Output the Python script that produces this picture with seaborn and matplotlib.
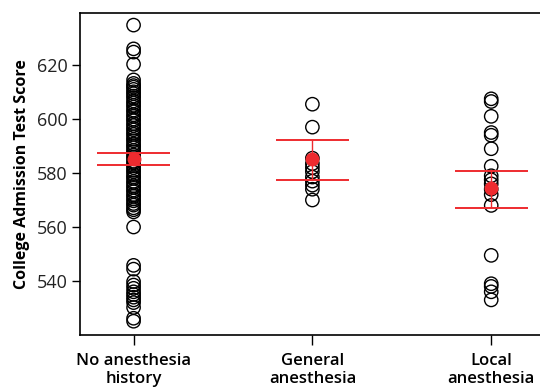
import matplotlib
matplotlib.use("Agg")
import matplotlib.pyplot as plt
import seaborn as sns
import pandas as pd

categories = ["No anesthesia\nhistory", "General\nanesthesia", "Local\nanesthesia"]

no_anesthesia = [634.8, 626.0, 624.8, 620.3, 614.5, 613.2, 612.4, 611.8, 611.0, 610.1,
                 609.4, 608.5, 607.8, 606.7, 606.0, 605.1, 604.4, 603.3, 602.7, 601.6,
                 601.0, 600.0, 599.4, 598.3, 597.6, 596.6, 596.0, 595.0, 594.3, 593.4,
                 592.5, 591.9, 590.8, 590.1, 589.4, 588.4, 587.8, 586.7, 586.0, 585.3,
                 584.3, 583.7, 582.7, 582.0, 581.0, 580.4, 579.4, 578.6, 578.0, 576.9,
                 576.3, 575.3, 574.7, 573.7, 573.1, 572.0, 571.4, 570.4, 569.7, 568.7,
                 568.1, 567.1, 566.4, 565.6, 560.0,
                 545.8, 544.4, 539.8, 538.5, 537.3, 536.0, 535.0, 534.0, 533.0, 532.0,
                 530.2, 526.2, 525.1]
general_anesthesia = [605.5, 597.0, 585.5, 583.5, 582.0, 580.5, 578.5, 577.0, 575.5, 574.0, 570.0]
local_anesthesia = [607.5, 606.5, 601.0, 595.0, 594.0, 589.0, 582.5, 579.0, 577.5, 576.0,
                    574.0, 572.0, 568.0, 549.5, 539.0, 538.0, 536.0, 533.0]

means = [585.3, 585.3, 574.3]
ci_low = [583.0, 577.5, 567.0]
ci_high = [587.4, 592.3, 580.8]

tick_values = [540, 560, 580, 600, 620]

plt.rcParams["font.family"] = ["Open Sans", "DejaVu Sans"]

df = pd.DataFrame({
    "group": [categories[0]] * len(no_anesthesia)
    + [categories[1]] * len(general_anesthesia)
    + [categories[2]] * len(local_anesthesia),
    "score": no_anesthesia + general_anesthesia + local_anesthesia,
})
df_mean = pd.DataFrame({"group": categories, "score": means})

fig = plt.figure(figsize=(5.4, 3.88), dpi=100)
ax = fig.add_axes([0.148, 0.1366, 0.861, 0.83])

sns.stripplot(data=df, x="group", y="score", order=categories, jitter=False,
              size=9.6, linewidth=1.0, edgecolor="black", color="white", ax=ax, zorder=2)
for c in ax.collections:
    c.set_facecolor("none")
    c.set_edgecolor("black")

red = "#ee2b2f"
for i in range(len(categories)):
    ax.hlines([ci_low[i], ci_high[i]], i - 0.205, i + 0.205, color=red, lw=1.4, zorder=4)
    ax.vlines(i, ci_low[i], ci_high[i], color=red, lw=1.0, zorder=4)

sns.stripplot(data=df_mean, x="group", y="score", order=categories, jitter=False,
              size=10, color=red, linewidth=0, ax=ax, zorder=5)

ax.set_xlim(-0.3, 2.3)
ax.set_ylim(520, 639.3)
ax.set_yticks(tick_values)
ax.set_xlabel("")
ax.set_ylabel("College Admission Test Score", fontsize=11.5, fontweight="bold", labelpad=5)
ax.tick_params(axis="y", labelsize=13, length=6, width=1.0, direction="out", pad=3)
ax.tick_params(axis="x", labelsize=12, length=7, width=1.0, direction="out", pad=6)
for lab in ax.get_xticklabels():
    lab.set_fontweight("semibold")
    lab.set_linespacing(1.15)
for lab in ax.get_yticklabels():
    lab.set_color("#222222")
for s in ["left", "bottom", "top"]:
    ax.spines[s].set_linewidth(1.2)
    ax.spines[s].set_color("black")
ax.spines["right"].set_visible(False)

fig.savefig("out.png", dpi=100)
